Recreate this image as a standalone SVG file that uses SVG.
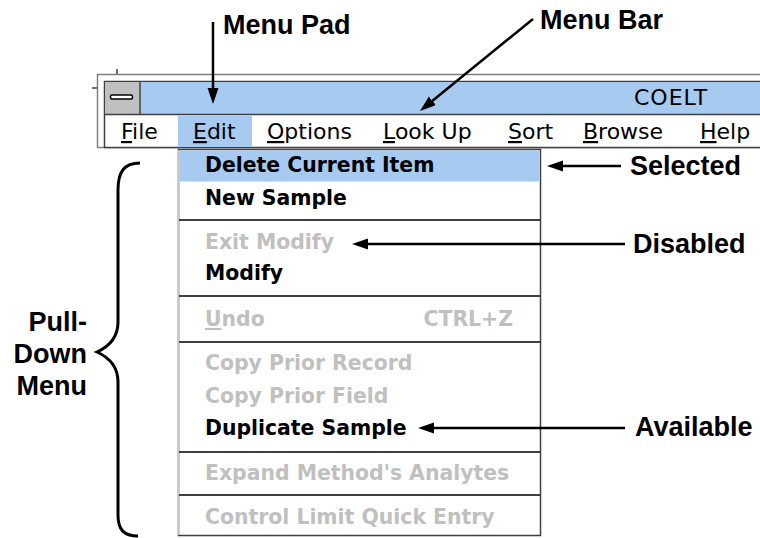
<svg xmlns="http://www.w3.org/2000/svg" width="760" height="538" viewBox="0 0 760 538">
<defs>
<marker id="ah" markerUnits="userSpaceOnUse" markerWidth="17" markerHeight="12" refX="1" refY="5.5" orient="auto"><path d="M0,0 L16,5.5 L0,11 z" fill="#000"/></marker>
<style>
.lbl{font-family:"Liberation Sans",Arial,sans-serif;font-weight:bold;font-size:27px;fill:#000}
.mb{font-family:"DejaVu Sans",sans-serif;font-size:22px;fill:#000}
.mi{font-family:"DejaVu Sans",sans-serif;font-weight:bold;font-size:20.4px;fill:#000}
.dis{fill:#c0c0c0}
.sep{stroke:#404040;stroke-width:2}
.frm{stroke:#404040;stroke-width:1.5}
.arr{stroke:#000;stroke-width:2.5;fill:none;marker-end:url(#ah)}
.ul{text-decoration:underline}
</style>
</defs>
<rect width="760" height="538" fill="#fff"/>

<g id="window">
  <rect x="97.5" y="74.5" width="700" height="73" fill="#fff" stroke="#808080" stroke-width="1.5"/>
  <rect x="104.5" y="81.5" width="700" height="66" fill="#fff" class="frm"/>
  <rect x="105" y="82" width="655" height="32" fill="#a6caf0"/>
  <rect x="105" y="82" width="35" height="32" fill="#c0c0c0"/>
  <line x1="140" y1="82" x2="140" y2="114" class="frm"/>
  <line x1="104" y1="114.5" x2="760" y2="114.5" class="frm"/>
  <rect x="110.5" y="95" width="22" height="4" rx="1.5" fill="#fff" stroke="#000" stroke-width="1.5"/>
  <line x1="117" y1="69" x2="117" y2="74" class="frm"/>
  <line x1="92" y1="88" x2="97" y2="88" class="frm"/>
  <text x="634" y="105" class="mb" letter-spacing="1">COELT</text>
</g>

<g id="menu-bar">
  <rect x="178" y="115.5" width="74" height="31.5" fill="#a6caf0"/>
  <text x="121" y="139" class="mb"><tspan class="ul">F</tspan>ile</text>
  <text x="193" y="139" class="mb"><tspan class="ul">E</tspan>dit</text>
  <text x="267" y="139" class="mb"><tspan class="ul">O</tspan>ptions</text>
  <text x="383" y="139" class="mb"><tspan class="ul">L</tspan>ook Up</text>
  <text x="508" y="139" class="mb"><tspan class="ul">S</tspan>ort</text>
  <text x="583" y="139" class="mb"><tspan class="ul">B</tspan>rowse</text>
  <text x="700" y="139" class="mb"><tspan class="ul">H</tspan>elp</text>
</g>

<g id="pulldown-menu">
  <rect x="178.5" y="149.5" width="362" height="386" fill="#fff" class="frm"/>
  <line x1="178.5" y1="150" x2="178.5" y2="535" stroke="#c8c8c8" stroke-width="1.5"/>
  <rect x="179.5" y="150.5" width="360" height="31" fill="#a6caf0"/>
  <line x1="179" y1="220" x2="540" y2="220" class="sep"/>
  <line x1="179" y1="296" x2="540" y2="296" class="sep"/>
  <line x1="179" y1="342" x2="540" y2="342" class="sep"/>
  <line x1="179" y1="452" x2="540" y2="452" class="sep"/>
  <line x1="179" y1="495" x2="540" y2="495" class="sep"/>
  <text x="205" y="172" class="mi">Delete Current Item</text>
  <text x="205" y="205" class="mi">New Sample</text>
  <text x="205" y="249" class="mi dis">Exit Modify</text>
  <text x="205" y="280" class="mi">Modify</text>
  <text x="205" y="326" class="mi dis"><tspan class="ul">U</tspan>ndo</text>
  <text x="513" y="326" class="mi dis" text-anchor="end">CTRL+Z</text>
  <text x="205" y="370" class="mi dis">Copy Prior Record</text>
  <text x="205" y="403" class="mi dis">Copy Prior Field</text>
  <text x="205" y="435" class="mi">Duplicate Sample</text>
  <text x="205" y="480" class="mi dis">Expand Method's Analytes</text>
  <text x="205" y="524" class="mi dis">Control Limit Quick Entry</text>
</g>

<g id="label-menu-pad"><text x="223" y="34" class="lbl">Menu Pad</text></g>
<g id="label-menu-bar"><text x="540" y="29" class="lbl">Menu Bar</text></g>
<g id="label-selected"><text x="630" y="175" class="lbl">Selected</text></g>
<g id="label-disabled"><text x="633" y="253" class="lbl">Disabled</text></g>
<g id="label-available"><text x="635" y="436" class="lbl">Available</text></g>
<g id="label-pulldown">
  <text x="87" y="331" class="lbl" text-anchor="end">Pull-</text>
  <text x="87" y="363" class="lbl" text-anchor="end">Down</text>
  <text x="87" y="395" class="lbl" text-anchor="end">Menu</text>
</g>

<g id="connectors">
  <line x1="213" y1="22" x2="213" y2="89" class="arr"/>
  <line x1="533" y1="19" x2="431.6" y2="101.5" class="arr"/>
  <line x1="621" y1="166" x2="562" y2="166" class="arr"/>
  <line x1="625" y1="244" x2="367" y2="244" class="arr"/>
  <line x1="625" y1="428" x2="433" y2="428" class="arr"/>
  <path d="M140,163 C124,163 118,172 118,190 L118,322 C118,338 108,347 97,352 C108,357 118,366 118,382 L118,515 C118,530 124,536 138,536" fill="none" stroke="#000" stroke-width="3"/>
</g>
</svg>
